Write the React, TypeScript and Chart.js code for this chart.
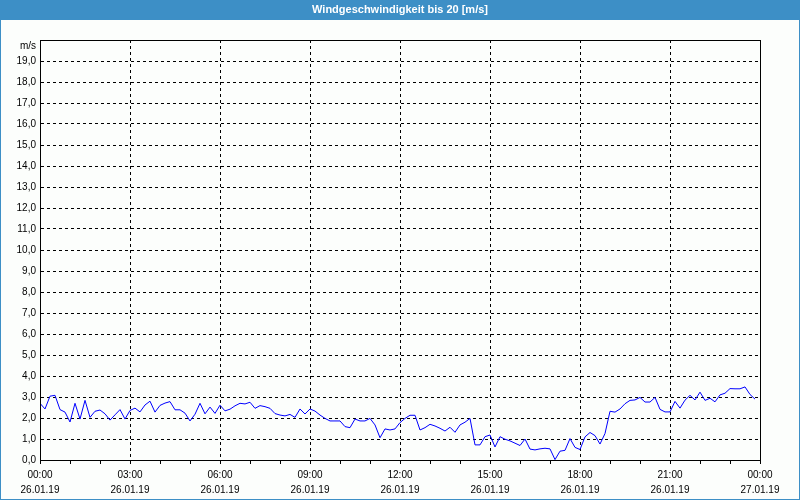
import React, { useEffect, useRef } from 'react';
import { Chart, registerables } from 'chart.js';

Chart.register(...registerables);

const TITLE = 'Windgeschwindigkeit bis 20 [m/s]';
const Y_UNIT = 'm/s';
const SAMPLE_MINUTES = 10;
const Y_MAX = 20;
const X_MAX_HOURS = 24;

// x-axis labels every 3 hours
const timeLabels = ['00:00', '03:00', '06:00', '09:00', '12:00', '15:00', '18:00', '21:00', '00:00'];
const dateLabels = ['26.01.19', '26.01.19', '26.01.19', '26.01.19', '26.01.19', '26.01.19', '26.01.19', '26.01.19', '27.01.19'];

// wind speed (m/s), one value every 10 minutes from 00:00 to 23:50
const windSpeed = [
  2.7, 2.43, 3.04, 3.08, 2.4, 2.28, 1.81, 2.7, 1.95, 2.84, 2.03, 2.32,
  2.38, 2.2, 1.9, 2.15, 2.4, 1.95, 2.36, 2.47, 2.29, 2.62, 2.8, 2.28,
  2.6, 2.71, 2.78, 2.39, 2.39, 2.23, 1.86, 2.18, 2.7, 2.2, 2.52, 2.22,
  2.61, 2.34, 2.42, 2.58, 2.7, 2.67, 2.75, 2.46, 2.59, 2.54, 2.46, 2.21,
  2.14, 2.1, 2.17, 2.03, 2.43, 2.19, 2.43, 2.33, 2.14, 1.98, 1.86, 1.86,
  1.86, 1.59, 1.54, 1.95, 1.86, 1.86, 1.98, 1.67, 1.06, 1.48, 1.43, 1.48,
  1.78, 1.98, 2.13, 2.13, 1.43, 1.54, 1.7, 1.62, 1.51, 1.38, 1.56, 1.32,
  1.67, 1.8, 1.98, 0.72, 0.72, 1.11, 1.19, 0.62, 1.11, 0.99, 0.91, 0.8,
  0.69, 1.0, 0.52, 0.48, 0.53, 0.56, 0.53, 0.02, 0.42, 0.46, 1.02, 0.6,
  0.5, 1.1, 1.31, 1.16, 0.76, 1.26, 2.32, 2.28, 2.43, 2.68, 2.84, 2.86,
  2.98, 2.76, 2.76, 2.98, 2.41, 2.29, 2.29, 2.79, 2.47, 2.85, 3.08, 2.86,
  3.23, 2.84, 2.94, 2.77, 3.1, 3.18, 3.4, 3.39, 3.39, 3.48, 3.12, 2.9,
];

const BAR_BLUE = '#3d8fc6';
const PAGE_BG = '#fcfefc';
const FONT_FAMILY = '"Liberation Sans", Arial, sans-serif';

const framePlugin = {
  id: 'frame',
  beforeDraw(chart: any) {
    const { ctx, width, height } = chart;
    ctx.save();
    ctx.fillStyle = PAGE_BG;
    ctx.fillRect(0, 0, width, height);
    ctx.fillStyle = BAR_BLUE;
    ctx.fillRect(0, 0, width, 20);
    ctx.fillRect(0, 0, 1, height);
    ctx.fillRect(width - 1, 0, 1, height);
    ctx.fillRect(0, height - 1, width, 1);
    ctx.fillStyle = '#ffffff';
    ctx.font = 'bold 11px ' + FONT_FAMILY;
    ctx.textAlign = 'center';
    ctx.textBaseline = 'middle';
    ctx.fillText(TITLE, width / 2, 10);
    ctx.restore();
  },
  afterDraw(chart: any) {
    const { ctx, chartArea } = chart;
    const { left, top, right, bottom } = chartArea;
    ctx.save();
    ctx.strokeStyle = '#000';
    ctx.lineWidth = 1;
    ctx.setLineDash([]);
    ctx.strokeRect(left + 0.5, top + 0.5, right - left, bottom - top);
    ctx.fillStyle = '#000';
    ctx.font = '10px ' + FONT_FAMILY;
    ctx.textAlign = 'right';
    ctx.textBaseline = 'middle';
    ctx.fillText(Y_UNIT, left - 4, top + 6);
    ctx.restore();
  },
};

export default function App() {
  const canvasRef = useRef<HTMLCanvasElement | null>(null);

  useEffect(() => {
    if (!canvasRef.current) return;
    const points = windSpeed.map((v, i) => ({ x: (i * SAMPLE_MINUTES) / 60, y: v }));
    const chart = new Chart(canvasRef.current, {
      type: 'line',
      data: {
        datasets: [
          {
            data: points,
            borderColor: '#0000ff',
            borderWidth: 1,
            pointRadius: 0,
            tension: 0,
            fill: false,
          },
        ],
      },
      options: {
        animation: false,
        responsive: false,
        devicePixelRatio: 1,
        layout: { padding: { top: 40, right: 40, left: 0, bottom: 0 } },
        plugins: {
          legend: { display: false },
          tooltip: { enabled: false },
          title: { display: false },
        },
        scales: {
          x: {
            type: 'linear',
            min: 0,
            max: X_MAX_HOURS,
            afterFit: (s: any) => {
              s.height = 40;
            },
            grid: {
              color: (c: any) => {
                const v = c.tick ? c.tick.value : -1;
                return v % 3 === 0 && v !== 0 && v !== X_MAX_HOURS ? '#000' : 'rgba(0,0,0,0)';
              },
              tickColor: '#000',
              tickLength: 4,
              lineWidth: 1,
              drawTicks: true,
            },
            border: { display: true, color: '#000', dash: [3, 3] },
            ticks: {
              stepSize: 1,
              autoSkip: false,
              maxRotation: 0,
              minRotation: 0,
              padding: 4,
              color: '#000',
              font: { family: FONT_FAMILY, size: 10, lineHeight: 1.5 },
              callback: (value: any) => {
                const h = Number(value);
                if (h % 3 !== 0) return '';
                const i = h / 3;
                return [timeLabels[i], dateLabels[i]];
              },
            },
          },
          y: {
            type: 'linear',
            min: 0,
            max: Y_MAX,
            afterFit: (s: any) => {
              s.width = 40;
            },
            grid: {
              color: (c: any) => {
                const v = c.tick ? c.tick.value : -1;
                return v === 0 || v === Y_MAX ? 'rgba(0,0,0,0)' : '#000';
              },
              drawTicks: false,
              lineWidth: 1,
            },
            border: { display: true, color: '#000', dash: [3, 3] },
            ticks: {
              stepSize: 1,
              padding: 4,
              color: '#000',
              font: { family: FONT_FAMILY, size: 10 },
              callback: (value: any) => {
                const v = Number(value);
                if (v === Y_MAX) return '';
                return v.toFixed(1).replace('.', ',');
              },
            },
          },
        },
      },
      plugins: [framePlugin],
    });
    return () => chart.destroy();
  }, []);

  return (
    <div style={{ position: 'absolute', left: 0, top: 0, width: 800, height: 500 }}>
      <canvas ref={canvasRef} width={800} height={500} style={{ display: 'block' }} />
    </div>
  );
}
